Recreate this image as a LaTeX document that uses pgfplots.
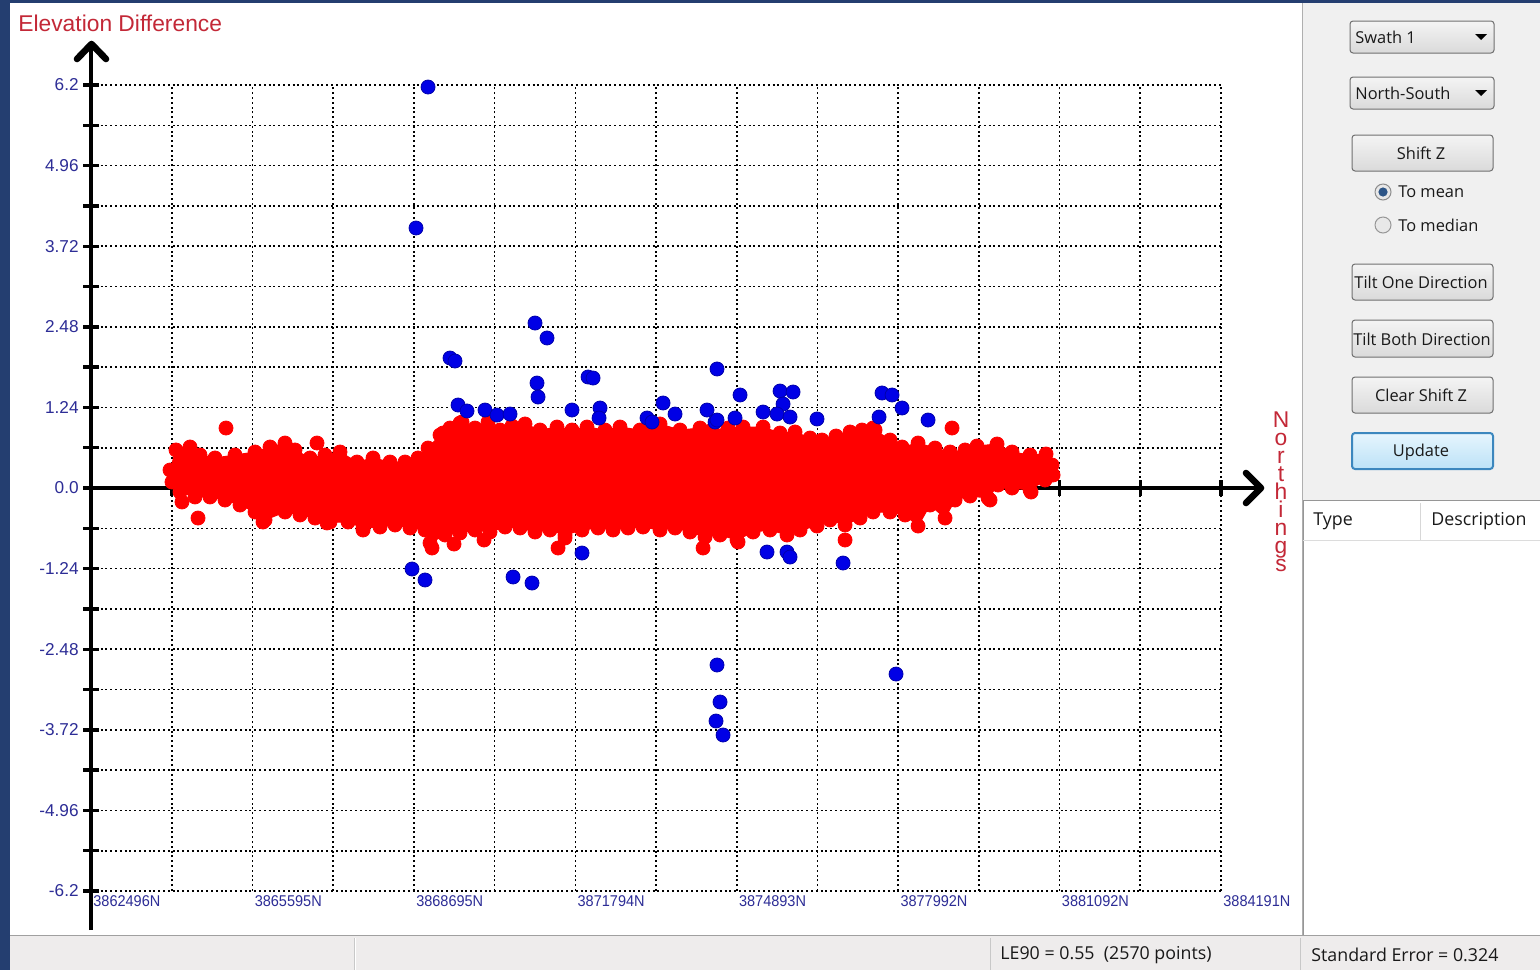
\documentclass[border=0pt]{standalone}
\usepackage{fontspec}
\usepackage{pgfplots}
\usepackage{pgfplotstable}
\pgfplotsset{compat=1.18}
\setmainfont{Liberation Sans}
\newfontfamily\uifont{Open Sans}
\definecolor{navy}{RGB}{36,62,112}
\definecolor{tickblue}{RGB}{45,45,150}
\definecolor{titlered}{RGB}{195,40,55}
\definecolor{panelgray}{RGB}{240,240,240}
\definecolor{statusgray}{RGB}{238,236,236}
\definecolor{ptred}{RGB}{255,0,0}
\definecolor{ptblue}{RGB}{0,0,230}
\definecolor{gA}{RGB}{160,160,160}
\definecolor{gB}{RGB}{175,175,175}
\definecolor{gC}{RGB}{200,200,200}
\definecolor{gD}{RGB}{150,150,150}
\definecolor{gE}{RGB}{220,220,220}
\definecolor{gF}{RGB}{215,215,215}
\definecolor{uitext}{RGB}{25,25,25}
\definecolor{btnborder}{RGB}{112,112,112}
\definecolor{btntop}{RGB}{244,244,244}
\definecolor{btnbot}{RGB}{218,218,218}
\definecolor{radioborder}{RGB}{140,140,140}
\definecolor{radiofill}{RGB}{232,232,232}
\definecolor{radiodot}{RGB}{45,85,135}
\definecolor{updborder}{RGB}{60,135,190}
\definecolor{updtop}{RGB}{230,245,253}
\definecolor{updbot}{RGB}{188,226,247}

% outer edge of the dense red cloud (dot centres), Northing in km, elevation difference
\pgfplotstableread{
x y
3864.013 0.277
3864.128 0.585
3864.397 0.631
3864.589 0.508
3864.877 0.462
3865.261 0.508
3865.645 0.554
3865.933 0.631
3866.221 0.692
3866.413 0.585
3866.701 0.462
3866.989 0.508
3867.277 0.554
3867.603 0.400
3867.911 0.462
3868.237 0.400
3868.525 0.400
3868.775 0.462
3868.967 0.615
3869.197 0.815
3869.389 0.923
3869.619 1.015
3869.869 0.923
3870.119 1.015
3870.349 0.892
3870.579 0.954
3870.829 0.985
3871.117 0.892
3871.443 0.938
3871.731 0.892
3872.019 0.938
3872.365 0.892
3872.653 0.938
3873.037 0.892
3873.421 0.985
3873.805 0.892
3874.189 0.923
3874.419 0.892
3874.727 0.923
3875.015 0.938
3875.399 0.938
3875.725 0.846
3876.013 0.862
3876.301 0.769
3876.531 0.738
3876.800 0.800
3877.069 0.862
3877.299 0.892
3877.549 0.892
3877.837 0.738
3878.067 0.631
3878.375 0.692
3878.701 0.615
3878.989 0.554
3879.277 0.585
3879.507 0.646
3879.891 0.677
3880.179 0.554
3880.525 0.508
3880.832 0.523
3880.947 0.354
3880.967 0.200
3880.813 0.123
3880.525 -0.031
3880.179 0.000
3879.911 0.046
3879.719 -0.154
3879.373 -0.123
3879.085 -0.185
3878.893 -0.462
3878.605 -0.262
3878.375 -0.585
3878.125 -0.415
3877.837 -0.369
3877.511 -0.369
3877.261 -0.462
3876.973 -0.569
3876.685 -0.492
3876.435 -0.585
3876.109 -0.646
3875.859 -0.723
3875.533 -0.646
3875.207 -0.677
3874.899 -0.800
3874.573 -0.723
3874.285 -0.754
3873.997 -0.677
3873.709 -0.615
3873.421 -0.646
3873.095 -0.600
3872.807 -0.615
3872.519 -0.646
3872.231 -0.615
3871.923 -0.646
3871.597 -0.723
3871.309 -0.646
3871.021 -0.677
3870.733 -0.615
3870.445 -0.600
3870.157 -0.677
3869.869 -0.646
3869.581 -0.692
3869.293 -0.723
3869.005 -0.846
3868.909 -0.646
3868.621 -0.615
3868.333 -0.569
3868.045 -0.600
3867.719 -0.615
3867.431 -0.523
3867.085 -0.523
3866.797 -0.462
3866.509 -0.415
3866.221 -0.369
3865.837 -0.492
3865.645 -0.369
3865.357 -0.262
3865.069 -0.185
3864.781 -0.138
3864.493 -0.138
3864.205 -0.062
3864.051 0.092
}\rededge

\pgfplotstableread{
x y
3865.088 0.923
3864.243 -0.215
3864.551 -0.462
3866.835 0.692
3865.799 -0.523
3867.027 -0.538
3867.719 -0.646
3869.043 -0.923
3869.466 -0.862
3870.042 -0.800
3871.463 -0.923
3871.597 -0.769
3874.247 -0.923
3874.919 -0.831
3876.973 -0.800
3879.027 0.923
3869.255 0.846
3869.581 1.000
3877.511 0.923
3880.544 -0.062
3879.757 -0.185
}\redextra

\pgfplotstableread{
x y
3868.967 6.169
3868.736 4.000
3871.021 2.538
3871.251 2.308
3869.389 2.000
3869.485 1.954
3871.059 1.615
3871.079 1.400
3872.039 1.708
3872.135 1.692
3869.543 1.277
3869.715 1.185
3870.061 1.200
3870.291 1.123
3870.541 1.138
3871.731 1.200
3872.269 1.231
3872.250 1.077
3873.171 1.077
3873.267 1.015
3873.479 1.308
3873.709 1.138
3874.323 1.200
3874.477 1.015
3874.515 1.831
3874.957 1.431
3874.515 1.046
3874.861 1.077
3875.399 1.169
3875.725 1.492
3875.975 1.477
3875.783 1.292
3875.667 1.138
3875.917 1.092
3876.435 1.062
3877.683 1.462
3877.875 1.431
3878.067 1.231
3877.626 1.092
3878.567 1.046
3868.659 -1.246
3868.909 -1.415
3870.599 -1.369
3870.963 -1.462
3871.923 -1.000
3875.475 -0.985
3875.859 -0.985
3875.917 -1.062
3876.935 -1.154
3874.515 -2.723
3874.573 -3.292
3874.496 -3.585
3874.631 -3.800
3877.952 -2.862
}\bluepts

\tikzset{
  ui/.style={font=\uifont\fontsize{8.2}{10}\selectfont, text=uitext, inner sep=0pt},
  btn/.style={draw=btnborder, line width=0.5pt, rounded corners=1.5pt,
     top color=btntop, bottom color=btnbot},
}

\begin{document}
\begin{tikzpicture}[x=0.5pt,y=-0.5pt]
\useasboundingbox (0,0) rectangle (1540,970);
% window frame and panels
\fill[navy] (0,0) rectangle (1540,970);
\fill[white] (10,3) rectangle (1302,935);
\fill[panelgray] (1302,3) rectangle (1540,935);
\fill[statusgray] (10,935) rectangle (1540,970);
\draw[line width=0.6pt, gA] (10,935.5) -- (1540,935.5);
\draw[line width=0.5pt, gB] (1302,3) -- (1302,935);
\draw[line width=0.5pt, white] (355,938) -- (355,970);
\draw[line width=0.5pt, gC] (354,938) -- (354,970);
\draw[line width=0.5pt, gC] (990,938) -- (990,970);
\draw[line width=0.5pt, gC] (1300,938) -- (1300,970);
\node[ui, anchor=west, font=\uifont\fontsize{8.9}{10}\selectfont] at (1000,955) {LE90 = 0.55\ \ (2570 points)};
\node[ui, anchor=west, font=\uifont\fontsize{8.9}{10}\selectfont] at (1311,955) {Standard Error = 0.324};

% list box
\fill[white] (1303,500) rectangle (1540,935);
\draw[line width=0.5pt, gD] (1303,500) -- (1540,500);
\draw[line width=0.5pt, gD] (1303.5,500) -- (1303.5,935);
\draw[line width=0.5pt, gE] (1303,540) -- (1540,540);
\draw[line width=0.5pt, gF] (1420,503) -- (1420,540);
\node[ui, anchor=west, font=\uifont\fontsize{8.9}{10}\selectfont] at (1313,521) {Type};
\node[ui, anchor=west, font=\uifont\fontsize{8.9}{10}\selectfont] at (1431,521) {Description};

% controls
\path[btn] (1350,21) rectangle (1494,53);
\node[ui, anchor=west] at (1355,37) {Swath 1};
\fill[black] (1475,34) -- (1487,34) -- (1481,40) -- cycle;
\path[btn] (1350,77) rectangle (1494,109);
\node[ui, anchor=west] at (1355,93) {North-South};
\fill[black] (1475,90) -- (1487,90) -- (1481,96) -- cycle;
\path[btn] (1352,135) rectangle (1493,171);
\node[ui] at (1421,153) {Shift Z};
\draw[radioborder, line width=0.5pt, fill=radiofill] (1383,192) circle (4pt);
\fill[radiodot] (1383,192) circle (2.3pt);
\node[ui, anchor=west] at (1398,192) {To mean};
\draw[gD, line width=0.5pt, fill=radiofill] (1383,225) circle (4pt);
\node[ui, anchor=west] at (1398,225) {To median};
\path[btn] (1352,264) rectangle (1493,300);
\node[ui] at (1421,282) {Tilt One Direction};
\path[btn] (1352,320) rectangle (1493,357);
\node[ui] at (1422,339) {Tilt Both Direction};
\path[btn] (1352,377) rectangle (1493,413);
\node[ui] at (1421,395) {Clear Shift Z};
\path[draw=updborder, line width=1pt, rounded corners=1.5pt,
  top color=updtop, bottom color=updbot] (1352,433) rectangle (1493,469);
\node[ui] at (1421,452) {Update};

% titles
\node[anchor=base west, inner sep=0pt, font=\fontsize{11.4}{12}\selectfont, text=titlered] at (18,31) {Elevation Difference};
\node[anchor=north, align=center, inner sep=0pt, font=\fontsize{11.4}{9}\selectfont, text=titlered,
  execute at begin node={\lineskiplimit=-100pt\relax}] at (1281,411) {N\\o\\r\\t\\h\\i\\n\\g\\s};

% grid and tick labels
\begin{axis}[
  at={(45.5pt,-445.5pt)}, anchor=south west,
  scale only axis, width=565pt, height=403pt,
  xmin=3862.496, xmax=3884.191, ymin=-6.2, ymax=6.2,
  axis line style={draw=none},
  tick style={draw=none}, major tick length=0pt,
  xtick={3862.496,3864.046,3865.595,3867.145,3868.695,3870.244,3871.794,3873.343,3874.893,3876.443,3877.992,3879.542,3881.092,3882.641,3884.191},
  xticklabels={3862496N,,3865595N,,3868695N,,3871794N,,3874893N,,3877992N,,3881092N,,3884191N},
  ytick={-6.2,-5.58,-4.96,-4.34,-3.72,-3.1,-2.48,-1.86,-1.24,-0.62,0,0.62,1.24,1.86,2.48,3.1,3.72,4.34,4.96,5.58,6.2},
  yticklabels={-6.2,,-4.96,,-3.72,,-2.48,,-1.24,,0.0,,1.24,,2.48,,3.72,,4.96,,6.2},
  grid=major,
  major grid style={black, line width=0.8pt, dash pattern=on 1pt off 1.4pt},
  xticklabel style={font=\fontsize{7.8}{8}\selectfont, text=tickblue, anchor=north west, inner sep=0pt, yshift=-2pt, xshift=1pt, xscale=0.93},
  yticklabel style={font=\fontsize{8.6}{9}\selectfont, text=tickblue, anchor=east, inner sep=0pt, xshift=-6pt},
]
\end{axis}

% axis lines with open arrow heads
\draw[black, line width=2.4pt] (91,930) -- (91,47);
\draw[black, line width=1.7pt] (91,488) -- (1259,488);
\draw[black, line width=3.3pt, line cap=round, line join=round] (77,59) -- (91.5,44) -- (106,59);
\draw[black, line width=3.3pt, line cap=round, line join=round] (1246,473) -- (1261,488) -- (1246,503);

% ticks and data
\begin{axis}[
  at={(45.5pt,-445.5pt)}, anchor=south west,
  scale only axis, width=565pt, height=403pt,
  xmin=3862.496, xmax=3884.191, ymin=-6.2, ymax=6.2,
  axis x line=middle, axis y line=left,
  axis line style={draw=none},
  hide obscured x ticks=false, hide obscured y ticks=false,
  xtick={3862.496,3864.046,3865.595,3867.145,3868.695,3870.244,3871.794,3873.343,3874.893,3876.443,3877.992,3879.542,3881.092,3882.641,3884.191},
  ytick={-6.2,-5.58,-4.96,-4.34,-3.72,-3.1,-2.48,-1.86,-1.24,-0.62,0,0.62,1.24,1.86,2.48,3.1,3.72,4.34,4.96,5.58,6.2},
  xticklabels={}, yticklabels={},
  tick align=center, major tick length=8pt,
  tick style={black, line width=1.7pt},
  clip=false,
]
\addplot[fill=ptred, draw=ptred, line width=0.5pt] table {\rededge};
\addplot[only marks, mark=*, mark size=3.5pt, mark options={fill=ptred, draw=ptred}] table {\rededge};
\addplot[only marks, mark=*, mark size=3.5pt, mark options={fill=ptred, draw=ptred}] table {\redextra};
\addplot[only marks, mark=*, mark size=3.5pt, mark options={fill=ptblue, draw=ptblue!75!black, line width=0.4pt}] table {\bluepts};
\end{axis}
\end{tikzpicture}
\end{document}
